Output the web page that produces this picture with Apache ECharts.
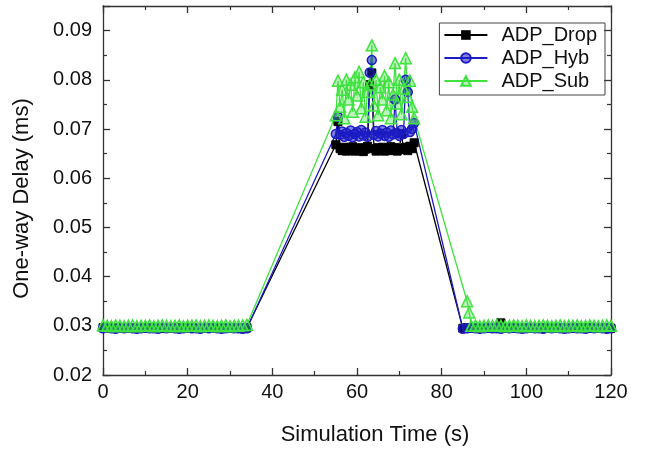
<!DOCTYPE html>
<html>
<head>
<meta charset="utf-8">
<script src="https://cdn.jsdelivr.net/npm/echarts@6/dist/echarts.min.js"></script>
<style>
html,body{margin:0;padding:0;background:#fff;}
#chart{width:649px;height:451px;}
</style>
</head>
<body>
<div id="chart"></div>
<script>
// ---- data ----
const seriesNames = ['ADP_Drop', 'ADP_Hyb', 'ADP_Sub'];

const timesPre = [0,1,2,3,4,5,6,7,8,9,10,11,12,13,14,15,16,17,18,19,20,21,22,23,24,25,26,27,28,29,30,31,32,33,34];
const timesPeak = [55,55.5,56,56.5,57,57.5,58,58.5,59,59.5,60,60.5,61,61.5,62,62.5,63,63.5,64,64.5,65,65.5,66,66.5,67,67.5,68,68.5,69,69.5,70,70.5,71,71.5,72,72.5,73,73.5];
const timesPostDH = [85,86,87,88,89,90,91,92,93,94,95,96,97,98,99,100,101,102,103,104,105,106,107,108,109,110,111,112,113,114,115,116,117,118,119,120];
const timesPostSub = [86,86.5,87,88,89,90,91,92,93,94,95,96,97,98,99,100,101,102,103,104,105,106,107,108,109,110,111,112,113,114,115,116,117,118,119,120];

const dropPre = [0.0296,0.0295,0.0296,0.0295,0.0296,0.0295,0.0295,0.0296,0.0295,0.0296,0.0295,0.0295,0.0296,0.0295,0.0296,0.0295,0.0295,0.0296,0.0295,0.0296,0.0295,0.0295,0.0296,0.0295,0.0296,0.0295,0.0295,0.0296,0.0295,0.0296,0.0295,0.0295,0.0296,0.0295,0.0296];
const dropPeak = [0.0668,0.0715,0.0660,0.0656,0.0663,0.0655,0.0661,0.0657,0.0664,0.0655,0.0660,0.0656,0.0662,0.0654,0.0659,0.0665,0.0790,0.0814,0.0660,0.0655,0.0662,0.0657,0.0663,0.0655,0.0660,0.0656,0.0664,0.0657,0.0662,0.0655,0.0661,0.0690,0.0658,0.0663,0.0656,0.0665,0.0660,0.0672];
const dropPost = [0.0295,0.0296,0.0295,0.0296,0.0295,0.0295,0.0296,0.0295,0.0296,0.0306,0.0295,0.0296,0.0295,0.0295,0.0296,0.0295,0.0296,0.0295,0.0295,0.0296,0.0295,0.0296,0.0295,0.0295,0.0296,0.0295,0.0296,0.0295,0.0295,0.0296,0.0295,0.0296,0.0295,0.0295,0.0296,0.0295];

const hybPre = [0.0295,0.0296,0.0295,0.0294,0.0296,0.0295,0.0296,0.0295,0.0294,0.0295,0.0296,0.0295,0.0295,0.0294,0.0296,0.0295,0.0296,0.0295,0.0294,0.0295,0.0296,0.0295,0.0295,0.0294,0.0296,0.0295,0.0296,0.0295,0.0294,0.0295,0.0296,0.0295,0.0295,0.0294,0.0295];
const hybPeak = [0.0690,0.0725,0.0688,0.0695,0.0684,0.0692,0.0686,0.0697,0.0683,0.0690,0.0694,0.0685,0.0698,0.0687,0.0693,0.0684,0.0815,0.0840,0.0688,0.0696,0.0685,0.0691,0.0698,0.0686,0.0693,0.0684,0.0697,0.0689,0.0760,0.0692,0.0686,0.0698,0.0690,0.0800,0.0775,0.0694,0.0700,0.0712];
const hybPost = [0.0294,0.0295,0.0296,0.0295,0.0294,0.0295,0.0296,0.0295,0.0295,0.0294,0.0296,0.0295,0.0296,0.0295,0.0294,0.0295,0.0296,0.0295,0.0295,0.0294,0.0296,0.0295,0.0296,0.0295,0.0294,0.0295,0.0296,0.0295,0.0295,0.0294,0.0296,0.0295,0.0296,0.0295,0.0294,0.0295];

const subPre = [0.0301,0.0300,0.0299,0.0301,0.0300,0.0299,0.0300,0.0301,0.0299,0.0300,0.0300,0.0301,0.0299,0.0300,0.0301,0.0300,0.0299,0.0300,0.0301,0.0299,0.0300,0.0300,0.0301,0.0299,0.0300,0.0301,0.0300,0.0299,0.0300,0.0301,0.0299,0.0300,0.0300,0.0301,0.0302];
const subPeak = [0.0728,0.0798,0.0745,0.0780,0.0722,0.0800,0.0760,0.0790,0.0735,0.0805,0.0768,0.0816,0.0742,0.0795,0.0725,0.0775,0.0790,0.0870,0.0748,0.0800,0.0728,0.0785,0.0760,0.0808,0.0738,0.0795,0.0722,0.0770,0.0834,0.0752,0.0800,0.0730,0.0782,0.0844,0.0765,0.0798,0.0745,0.0722];
const subPost = [0.0350,0.0327,0.0300,0.0301,0.0299,0.0300,0.0301,0.0300,0.0302,0.0300,0.0299,0.0300,0.0301,0.0300,0.0299,0.0301,0.0300,0.0299,0.0300,0.0301,0.0300,0.0299,0.0300,0.0301,0.0299,0.0300,0.0300,0.0301,0.0299,0.0300,0.0301,0.0300,0.0299,0.0300,0.0301,0.0300];

const xTicks = [0, 20, 40, 60, 80, 100, 120];
const yTicks = [0.02, 0.03, 0.04, 0.05, 0.06, 0.07, 0.08, 0.09];

// ---- build ----
function pairs(ts, vs) { return ts.map((t, i) => [t, vs[i]]); }
const dropData = pairs(timesPre, dropPre).concat(pairs(timesPeak, dropPeak), pairs(timesPostDH, dropPost));
const hybData = pairs(timesPre, hybPre).concat(pairs(timesPeak, hybPeak), pairs(timesPostDH, hybPost));
const subData = pairs(timesPre, subPre).concat(pairs(timesPeak, subPeak), pairs(timesPostSub, subPost));

const FONT = 'Liberation Sans, Arial, sans-serif';
const AX = '#333';
const BLUE = '#1c1cc4';
const GREEN = '#3fe23f';

function axisCommon() {
  return {
    axisLine: { show: true, onZero: false, lineStyle: { color: AX, width: 1.3 } },
    axisTick: { show: true, inside: true, length: 7, lineStyle: { color: AX, width: 1.3 } },
    minorTick: { show: true, splitNumber: 2, length: 4, lineStyle: { color: AX, width: 1.2 } },
    splitLine: { show: false },
    minorSplitLine: { show: false },
  };
}

const chart = echarts.init(document.getElementById('chart'), null, { renderer: 'canvas' });
chart.setOption({
  backgroundColor: '#fff',
  animation: false,
  grid: { left: 103, right: 38, top: 6, bottom: 73, containLabel: false },
  legend: {
    orient: 'vertical',
    right: 44, top: 23,
    data: seriesNames,
    itemWidth: 43, itemHeight: 12, itemGap: 3,
    padding: [2, 8, 4, 4],
    borderColor: '#444', borderWidth: 1,
    textStyle: { fontFamily: FONT, fontSize: 20, color: '#111', lineHeight: 20, padding: [0, 0, 0, 9] },
  },
  xAxis: [
    Object.assign({
      type: 'value', min: 0, max: 120, interval: 20,
      name: 'Simulation Time (s)', nameLocation: 'middle', nameGap: 49,
      nameTextStyle: { fontFamily: FONT, fontSize: 22, color: '#111', padding: [0, 0, 0, 36] },
      axisLabel: { show: true, margin: 7, fontFamily: FONT, fontSize: 20, color: '#111',
        formatter: v => xTicks.includes(v) ? String(v) : '' },
    }, axisCommon()),
    Object.assign({
      type: 'value', min: 0, max: 120, interval: 20, position: 'top',
      axisLabel: { show: false },
    }, axisCommon()),
  ],
  yAxis: [
    Object.assign({
      type: 'value', min: 0.02, max: 0.095, interval: 0.01,
      name: 'One-way Delay (ms)', nameLocation: 'middle', nameGap: 70,
      nameTextStyle: { fontFamily: FONT, fontSize: 22, color: '#111', padding: [0, 16, 0, 0] },
      axisLabel: { show: true, margin: 11, fontFamily: FONT, fontSize: 20, color: '#111', showMaxLabel: false,
        formatter: v => { const s = v.toFixed(2); return yTicks.some(t => t.toFixed(2) === s) && Math.abs(v - parseFloat(s)) < 1e-6 ? s : ''; } },
    }, axisCommon()),
    Object.assign({
      type: 'value', min: 0.02, max: 0.095, interval: 0.01, position: 'right',
      axisLabel: { show: false },
    }, axisCommon()),
  ],
  series: [
    {
      name: 'ADP_Drop', type: 'line', data: dropData, xAxisIndex: 0, yAxisIndex: 0,
      symbol: 'rect', symbolSize: 8, showAllSymbol: true,
      lineStyle: { color: '#000', width: 1.3 },
      itemStyle: { color: '#000', borderColor: '#000' },
    },
    {
      name: 'ADP_Hyb', type: 'line', data: hybData, xAxisIndex: 0, yAxisIndex: 0,
      symbol: 'circle', symbolSize: 9, showAllSymbol: true,
      lineStyle: { color: BLUE, width: 1.3 },
      itemStyle: { color: 'rgba(28,28,196,0.55)', borderColor: BLUE, borderWidth: 1.5 },
    },
    {
      name: 'ADP_Sub', type: 'line', data: subData, xAxisIndex: 0, yAxisIndex: 0,
      symbol: 'triangle', symbolSize: 11, showAllSymbol: true,
      lineStyle: { color: GREEN, width: 1.3 },
      itemStyle: { color: 'rgba(63,226,63,0.35)', borderColor: GREEN, borderWidth: 1.5 },
    },
  ],
});
</script>
</body>
</html>
